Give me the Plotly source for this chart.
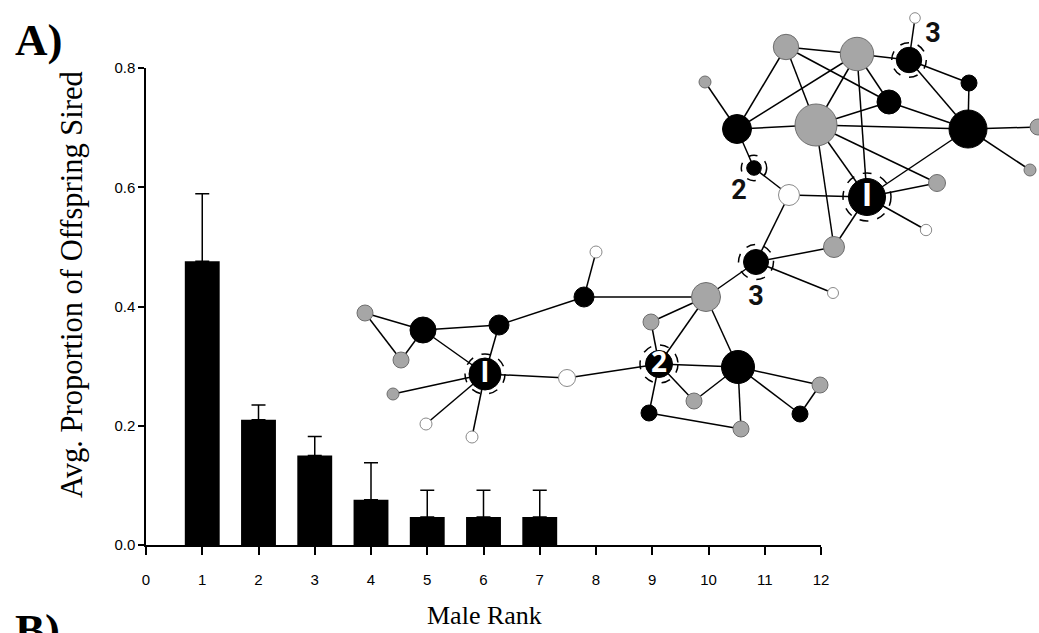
import plotly.graph_objects as go

FIG_W, FIG_H = 1039, 633

# ---------------- bar chart data ----------------
ranks = [1, 2, 3, 4, 5, 6, 7]
prop_sired = [0.476, 0.210, 0.150, 0.076, 0.047, 0.047, 0.047]
prop_err = [0.113, 0.025, 0.032, 0.062, 0.045, 0.045, 0.045]
x_ticks = list(range(0, 13))
y_ticks = [0.0, 0.2, 0.4, 0.6, 0.8]
y_tick_text = ["0.0", "0.2", "0.4", "0.6", "0.8"]

# ---------------- network data (picture coordinates) ----------------
node_names = ["A", "B", "C", "D", "E", "F", "N1L", "G", "H", "I", "J",
              "K", "L", "N2", "M", "Nn", "O", "P", "Q", "R",
              "T", "U", "N3T", "WT", "GS", "V", "W", "X", "Y", "Z", "GR", "GSR",
              "N2S", "AA", "N1R", "BB", "CC", "DD", "N3L", "EE"]
node_x = [365, 423, 401, 499, 584, 596, 485, 567, 393, 426, 472,
          706, 651, 659, 738, 694, 649, 741, 820, 800,
          786, 857, 909, 915, 705, 969, 889, 737, 816, 968, 1038, 1030,
          754, 789, 867, 937, 926, 834, 756, 833]
node_y = [313, 330, 360, 325, 297, 252, 374, 378, 394, 424, 437,
          297, 322, 364, 367, 401, 413, 429, 385, 414,
          47, 54, 60, 18, 82, 83, 102, 129, 125, 129, 127, 170,
          168, 195, 197, 183, 230, 247, 262, 293]
node_r = [8, 13, 8, 10, 10, 6, 16, 8.5, 6, 6, 6,
          14.5, 8, 13.5, 16.5, 8, 8, 8, 8, 8,
          12.7, 16.7, 12.7, 5.3, 6, 8, 12, 14.5, 21, 19, 8, 6,
          7.3, 10.5, 18.5, 8.5, 5.7, 10.5, 12.5, 5.5]
node_kind = ["g", "b", "g", "b", "b", "w", "b", "w", "g", "w", "w",
             "g", "g", "b", "b", "g", "b", "g", "g", "b",
             "g", "g", "b", "w", "g", "b", "b", "b", "g", "b", "g", "g",
             "b", "w", "b", "g", "w", "g", "b", "w"]

edges = [("A", "B"), ("A", "C"), ("C", "B"), ("B", "D"), ("B", "N1L"), ("D", "N1L"),
         ("D", "E"), ("E", "F"), ("E", "K"), ("N1L", "G"), ("G", "N2"), ("N1L", "H"),
         ("N1L", "I"), ("N1L", "J"),
         ("K", "L"), ("K", "N2"), ("K", "M"), ("K", "N3L"), ("L", "N2"), ("N2", "M"),
         ("N2", "Nn"), ("N2", "O"), ("Nn", "M"), ("O", "P"), ("M", "P"), ("M", "Q"),
         ("M", "R"), ("R", "Q"), ("N3L", "EE"), ("N3L", "DD"), ("N3L", "AA"),
         ("T", "U"), ("T", "X"), ("T", "Y"), ("T", "W"), ("U", "N3T"), ("U", "X"),
         ("U", "Y"), ("U", "W"), ("U", "N1R"), ("N3T", "WT"), ("N3T", "V"), ("N3T", "Z"),
         ("V", "Z"), ("W", "Z"), ("Y", "W"), ("Y", "Z"), ("X", "Y"), ("Z", "GR"),
         ("Z", "GSR"), ("Z", "N1R"), ("X", "GS"), ("X", "N2S"), ("Y", "DD"), ("Y", "N1R"),
         ("Y", "BB"), ("N2S", "AA"), ("AA", "N1R"), ("N1R", "BB"), ("N1R", "CC"),
         ("N1R", "DD")]

ringed_nodes = ["N1L", "N2", "N3L", "N1R", "N2S", "N3T"]
ring_radius = [20, 19, 17.5, 24, 12.7, 17.3]

inner_labels = ["I", "2", "I"]
inner_label_nodes = ["N1L", "N2", "N1R"]

outer_labels = ["2", "3", "3"]
outer_label_x = [739, 933, 756]
outer_label_y = [192, 35, 298]

# ---------------- build figure ----------------
pos = {n: (x, y) for n, x, y in zip(node_names, node_x, node_y)}
fill_map = {"b": "#000000", "g": "#a6a6a6", "w": "#ffffff"}
line_map = {"b": "#000000", "g": "#6e6e6e", "w": "#8a8a8a"}

fig = go.Figure()

fig.add_trace(go.Bar(
    x=ranks, y=prop_sired, width=0.62,
    marker=dict(color="black", line=dict(width=0)),
    error_y=dict(type="data", symmetric=False, array=prop_err,
                 arrayminus=[0] * len(prop_err), color="black",
                 thickness=1.5, width=7),
    xaxis="x", yaxis="y", showlegend=False, hoverinfo="skip"))

ex, ey = [], []
for a, b in edges:
    ex += [pos[a][0], pos[b][0], None]
    ey += [pos[a][1], pos[b][1], None]
fig.add_trace(go.Scatter(x=ex, y=ey, mode="lines",
                         line=dict(color="black", width=1.5),
                         xaxis="x2", yaxis="y2", showlegend=False, hoverinfo="skip"))

fig.add_trace(go.Scatter(
    x=node_x, y=node_y, mode="markers",
    marker=dict(size=[2 * r for r in node_r], opacity=1,
                color=[fill_map[k] for k in node_kind],
                line=dict(color=[line_map[k] for k in node_kind], width=1)),
    xaxis="x2", yaxis="y2", showlegend=False, hoverinfo="skip", cliponaxis=False))

fig.add_trace(go.Scatter(
    x=[pos[n][0] for n in inner_label_nodes],
    y=[pos[n][1] + 1 for n in inner_label_nodes],
    mode="text", text=inner_labels,
    textfont=dict(family="Open Sans", size=[28, 28, 32], color="white", weight="bold"),
    xaxis="x2", yaxis="y2", showlegend=False, hoverinfo="skip", cliponaxis=False))

fig.add_trace(go.Scatter(
    x=outer_label_x, y=outer_label_y, mode="text", text=outer_labels,
    textfont=dict(family="Roboto", size=27, color="#111111", weight="bold"),
    xaxis="x2", yaxis="y2", showlegend=False, hoverinfo="skip", cliponaxis=False))

shapes = []
for n, rr in zip(ringed_nodes, ring_radius):
    cx, cy = pos[n]
    shapes.append(dict(type="circle", xref="x2", yref="y2",
                       x0=cx - rr, x1=cx + rr, y0=cy - rr, y1=cy + rr,
                       line=dict(color="black", width=1.5, dash="dash"), layer="above"))

tick_font = dict(family="Liberation Sans, Arial", size=15, color="black")

fig.update_layout(
    width=FIG_W, height=FIG_H,
    margin=dict(l=0, r=0, t=0, b=0),
    paper_bgcolor="white", plot_bgcolor="rgba(0,0,0,0)",
    showlegend=False, bargap=0.38,
    shapes=shapes,
    xaxis=dict(domain=[146 / FIG_W, 821 / FIG_W], range=[0, 12],
               tickvals=x_ticks, ticktext=[str(v) for v in x_ticks],
               showline=True, linecolor="black", linewidth=1.5,
               ticks="outside", ticklen=8, tickwidth=1.5, tickcolor="black",
               showgrid=False, zeroline=False, tickfont=tick_font,
               ticklabelstandoff=12, anchor="y", automargin=False, fixedrange=True),
    yaxis=dict(domain=[(FIG_H - 545) / FIG_H, (FIG_H - 68) / FIG_H], range=[0, 0.8],
               tickvals=y_ticks, ticktext=y_tick_text,
               showline=True, linecolor="black", linewidth=1.5,
               ticks="outside", ticklen=6, tickwidth=1.5, tickcolor="black",
               showgrid=False, zeroline=False, tickfont=tick_font,
               anchor="x", automargin=False, fixedrange=True),
    xaxis2=dict(domain=[0, 1], range=[0, FIG_W], visible=False, anchor="y2",
                fixedrange=True),
    yaxis2=dict(domain=[0, 1], range=[FIG_H, 0], visible=False, anchor="x2",
                fixedrange=True),
    annotations=[
        dict(text="A)", x=13 / FIG_W, y=1 - 40 / FIG_H, xref="paper", yref="paper",
             xanchor="left", yanchor="middle", showarrow=False,
             font=dict(family="Liberation Serif, Times New Roman", size=45,
                       color="black", weight="bold")),
        dict(text="B)", x=13 / FIG_W, y=1 - 630 / FIG_H, xref="paper", yref="paper",
             xanchor="left", yanchor="middle", showarrow=False,
             font=dict(family="Liberation Serif, Times New Roman", size=45,
                       color="black", weight="bold")),
        dict(text="Avg. Proportion of Offspring Sired", textangle=-90,
             x=72 / FIG_W, y=1 - 285 / FIG_H, xref="paper", yref="paper",
             xanchor="center", yanchor="middle", showarrow=False,
             font=dict(family="Liberation Serif, Times New Roman", size=30.5, color="black")),
        dict(text="Male Rank", x=484 / FIG_W, y=1 - 615 / FIG_H, xref="paper", yref="paper",
             xanchor="center", yanchor="middle", showarrow=False,
             font=dict(family="Liberation Serif, Times New Roman", size=26, color="black")),
    ],
)

fig.write_html("out.html")
